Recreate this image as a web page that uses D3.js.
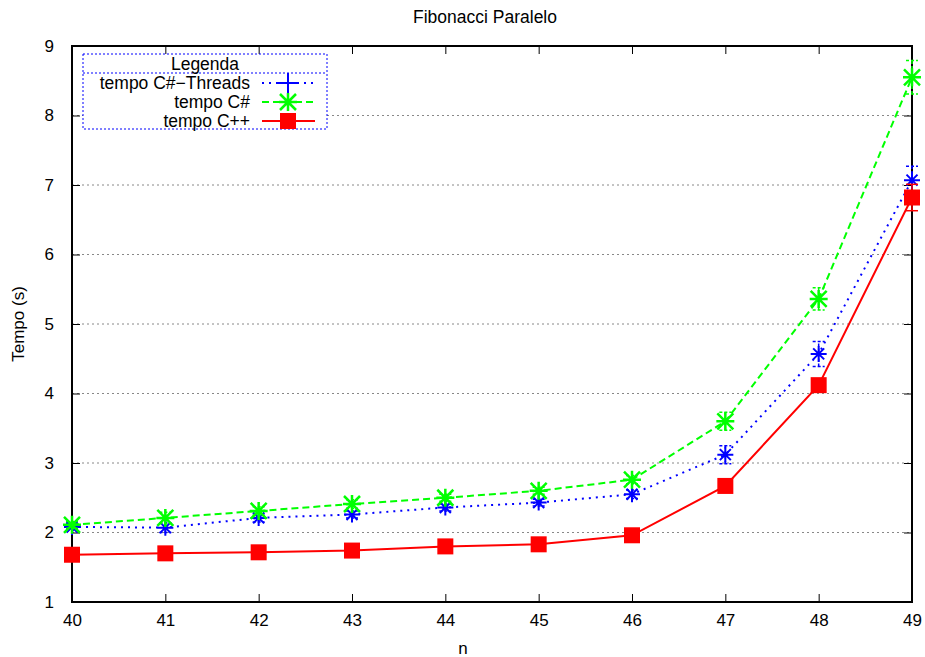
<!DOCTYPE html>
<meta charset="utf-8">
<style>
body { margin: 0; background: #fff; }
svg { font-family: "Liberation Sans", Arial, sans-serif; }
.grid line { stroke: #888; stroke-dasharray: 2,3; }
</style>
<body>
<script src="https://d3js.org/d3.v7.min.js"></script>
<script>

var nValues = [40, 41, 42, 43, 44, 45, 46, 47, 48, 49];
var yTicks = [1, 2, 3, 4, 5, 6, 7, 8, 9];

var threadsTime = [2.08, 2.07, 2.21, 2.26, 2.36, 2.43, 2.55, 3.12, 4.57, 7.07];
var threadsErr  = [0.05, 0.07, 0.06, 0.05, 0.05, 0.05, 0.06, 0.13, 0.18, 0.2];
var csTime = [2.11, 2.21, 2.31, 2.41, 2.50, 2.60, 2.76, 3.60, 5.36, 8.55];
var csErr  = [0.05, 0.08, 0.06, 0.06, 0.05, 0.05, 0.06, 0.13, 0.16, 0.24];
var cppTime = [1.68, 1.70, 1.715, 1.74, 1.80, 1.83, 1.96, 2.67, 4.12, 6.82];
var cppErr  = [0.03, 0.03, 0.03, 0.03, 0.03, 0.03, 0.03, 0.06, 0.08, 0.19];

var width = 925, height = 657;
var plotL = 72, plotR = 912, plotT = 46, plotB = 602;

var svg = d3.select("body").append("svg")
  .attr("width", width)
  .attr("height", height);

var x = d3.scaleLinear().domain([40, 49]).range([plotL, plotR]);
var y = d3.scaleLinear().domain([1, 9]).range([plotB, plotT]);

/* horizontal grid */
svg.append("g").attr("class", "grid")
  .selectAll("line")
  .data(yTicks.slice(1, -1))
  .enter().append("line")
  .attr("x1", plotL).attr("x2", plotR)
  .attr("y1", function (d) { return y(d); })
  .attr("y2", function (d) { return y(d); });

/* axes with inward ticks on all four sides */
function styleAxis(g) {
  g.select(".domain").remove();
  g.selectAll("line").attr("stroke", "#000").attr("stroke-width", 1);
  g.selectAll("text").attr("font-size", 17).attr("fill", "#000");
}
svg.append("g").attr("transform", "translate(0," + plotB + ")")
  .call(d3.axisBottom(x).tickValues(nValues).tickFormat(d3.format("d")).tickSizeInner(-8).tickPadding(12))
  .call(styleAxis);
svg.append("g").attr("transform", "translate(0," + plotT + ")")
  .call(d3.axisTop(x).tickValues(nValues).tickFormat("").tickSizeInner(-8))
  .call(styleAxis);
svg.append("g").attr("transform", "translate(" + plotL + ",0)")
  .call(d3.axisLeft(y).tickValues(yTicks).tickFormat(d3.format("d")).tickSizeInner(-8).tickPadding(18))
  .call(styleAxis);
svg.append("g").attr("transform", "translate(" + plotR + ",0)")
  .call(d3.axisRight(y).tickValues(yTicks).tickFormat("").tickSizeInner(-8))
  .call(styleAxis);

svg.append("rect")
  .attr("x", plotL).attr("y", plotT)
  .attr("width", plotR - plotL).attr("height", plotB - plotT)
  .attr("fill", "none").attr("stroke", "#000").attr("stroke-width", 2);

/* titles */
svg.append("text").attr("x", 485).attr("y", 23).attr("text-anchor", "middle")
  .attr("font-size", 17.5).text("Fibonacci Paralelo");
svg.append("text").attr("x", 463).attr("y", 654).attr("text-anchor", "middle")
  .attr("font-size", 17).text("n");
svg.append("text").attr("transform", "translate(24,324) rotate(-90)")
  .attr("text-anchor", "middle").attr("font-size", 17).text("Tempo (s)");

var series = [
  { name: "tempo C#\u2212Threads", values: threadsTime, err: threadsErr, color: "#0000ff", dash: "2,5", marker: "plus" },
  { name: "tempo C#", values: csTime, err: csErr, color: "#00ff00", dash: "7,4", marker: "star" },
  { name: "tempo C++", values: cppTime, err: cppErr, color: "#ff0000", dash: null, marker: "square" }
];

function drawMarker(g, type, color, legend) {
  if (type === "square") {
    g.append("rect").attr("x", -8).attr("y", -8).attr("width", 16).attr("height", 16)
      .attr("fill", color);
  } else if (type === "plus") {
    var s = legend ? 10 : 8;
    var p = "M" + (-s) + ",0H" + s + "M0," + (-s) + "V" + s;
    if (!legend) { var k = 5.5; p += "M" + (-k) + "," + (-k) + "L" + k + "," + k + "M" + (-k) + "," + k + "L" + k + "," + (-k); }
    g.append("path").attr("d", p).attr("stroke", color).attr("stroke-width", 2).attr("fill", "none");
  } else {
    var s2 = 9, k2 = 8;
    g.append("path")
      .attr("d", "M" + (-s2) + ",0H" + s2 + "M0," + (-s2) + "V" + s2 +
        "M" + (-k2) + "," + (-k2) + "L" + k2 + "," + k2 + "M" + (-k2) + "," + k2 + "L" + k2 + "," + (-k2))
      .attr("stroke", color).attr("stroke-width", 2.5).attr("fill", "none");
  }
}

var line = d3.line()
  .x(function (d, i) { return x(nValues[i]); })
  .y(function (d) { return y(d); });

series.forEach(function (s) {
  var g = svg.append("g");
  g.append("path").datum(s.values)
    .attr("d", line)
    .attr("fill", "none")
    .attr("stroke", s.color)
    .attr("stroke-width", 2)
    .attr("stroke-dasharray", s.dash);

  /* error bars */
  var eb = g.selectAll(".err").data(s.values).enter().append("g")
    .attr("stroke", s.color).attr("stroke-width", 1.5)
    .attr("stroke-dasharray", s.dash ? "3,2" : null);
  eb.append("line")
    .attr("x1", function (d, i) { return x(nValues[i]); })
    .attr("x2", function (d, i) { return x(nValues[i]); })
    .attr("y1", function (d, i) { return y(d - s.err[i]); })
    .attr("y2", function (d, i) { return y(d + s.err[i]); });
  [-1, 1].forEach(function (sg) {
    eb.append("line")
      .attr("x1", function (d, i) { return x(nValues[i]) - 6; })
      .attr("x2", function (d, i) { return x(nValues[i]) + 6; })
      .attr("y1", function (d, i) { return y(d + sg * s.err[i]); })
      .attr("y2", function (d, i) { return y(d + sg * s.err[i]); });
  });

  s.values.forEach(function (v, i) {
    var m = g.append("g").attr("transform", "translate(" + x(nValues[i]) + "," + y(v) + ")");
    drawMarker(m, s.marker, s.color, false);
  });
});

/* legend */
var lg = svg.append("g");
lg.append("rect").attr("x", 83).attr("y", 54).attr("width", 244).attr("height", 75)
  .attr("fill", "#fff").attr("stroke", "#0000ff").attr("stroke-width", 1).attr("stroke-dasharray", "2,2");
lg.append("line").attr("x1", 83).attr("x2", 327).attr("y1", 73).attr("y2", 73)
  .attr("stroke", "#0000ff").attr("stroke-dasharray", "2,2");
lg.append("text").attr("x", 205).attr("y", 70).attr("text-anchor", "middle")
  .attr("font-size", 17.5).text("Legenda");

series.forEach(function (s, i) {
  var ly = 83 + i * 19;
  lg.append("text").attr("x", 250).attr("y", ly + 6).attr("text-anchor", "end")
    .attr("font-size", 17.5).text(s.name);
  lg.append("line").attr("x1", 262).attr("x2", 315).attr("y1", ly).attr("y2", ly)
    .attr("stroke", s.color).attr("stroke-width", 2).attr("stroke-dasharray", s.dash);
  var m = lg.append("g").attr("transform", "translate(288," + ly + ")");
  drawMarker(m, s.marker, s.color, true);
});

</script>
</body>
